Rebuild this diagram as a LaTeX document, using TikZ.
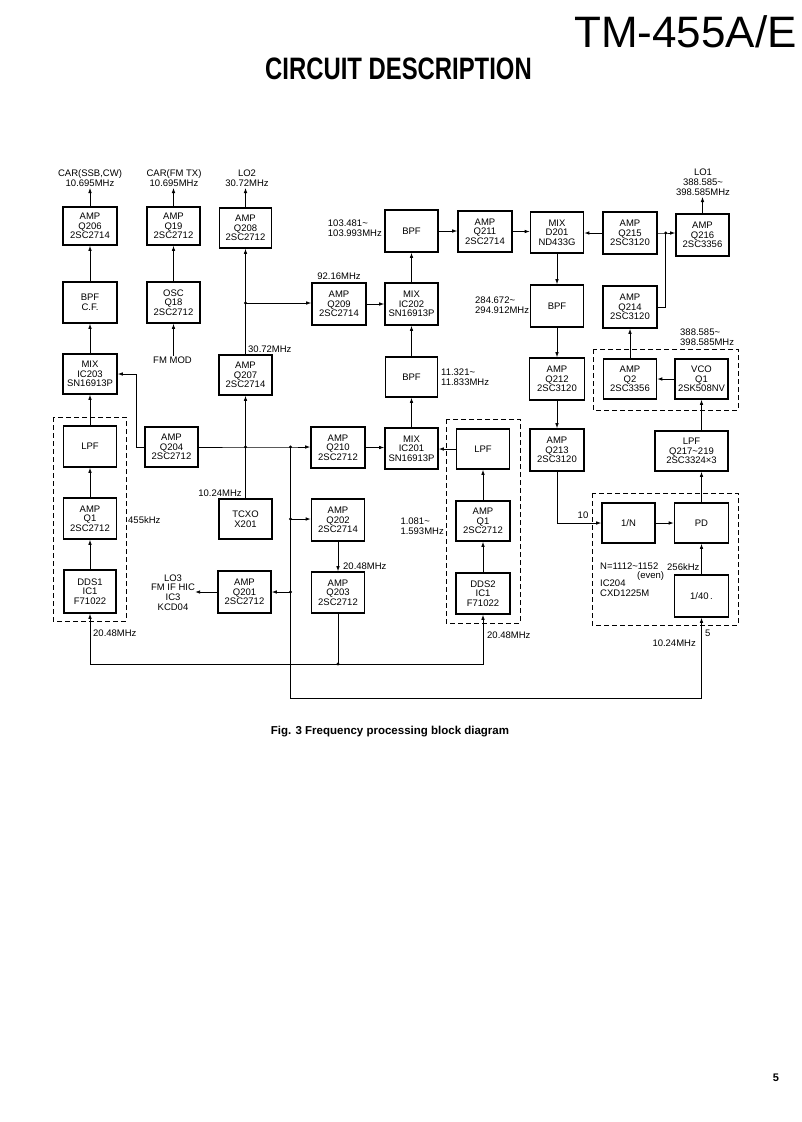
\documentclass[tikz,border=0pt]{standalone}
\usepackage{fontspec}
\usepackage{graphicx}
\setmainfont{Liberation Sans}
\usetikzlibrary{arrows.meta,calc}
\newcommand\bxf{\fontsize{9.5}{9.7}\selectfont}
\begin{document}
\begin{tikzpicture}[x=1pt,y=-1pt,
  blk/.style={draw, line width=1.6pt, minimum width=54pt, minimum height=41pt, align=center, inner sep=0pt, font=\bxf},
  lbl/.style={inner sep=0pt, align=center, font=\bxf},
  lblS/.style={lbl, anchor=south, inner sep=1.5pt},
  wire/.style={line width=0.8pt},
  arr/.style={wire, -{Latex[length=5pt,width=3.6pt]}},
  grp/.style={line width=0.9pt, dash pattern=on 5pt off 3pt},
  jdot/.style={circle, fill, inner sep=0pt, minimum size=3.4pt}]
\useasboundingbox (0,0) rectangle (802,1122);
\fill[white] (0,0) rectangle (802,1122);

% header
\node[anchor=base east, inner sep=0pt, font=\fontsize{44}{44}\selectfont] (model) at (797,47) {TM-455A/E};
\node[anchor=base west, inner sep=0pt, font=\bfseries\fontsize{31}{31}\selectfont] (title) at (265,79) {\scalebox{0.77}[1]{CIRCUIT DESCRIPTION}};

% column 1
\node[blk, minimum height=38pt] (q206) at (90,226) {AMP\\Q206\\2SC2714};
\node[blk] (bpfcf) at (90,302.5) {BPF\\C.F.};
\node[blk, minimum height=40pt] (ic203) at (90,374) {MIX\\IC203\\SN16913P};
\node[blk, minimum width=53pt] (lpf1) at (90,446.5) {LPF};
\node[blk, minimum width=53pt] (q1a) at (90,518.5) {AMP\\Q1\\2SC2712};
\node[blk, minimum width=52pt, minimum height=43pt] (dds1) at (90,591.5) {DDS1\\IC1\\F71022};
% column 2
\node[blk, minimum width=53pt, minimum height=38pt] (q19) at (173.5,226) {AMP\\Q19\\2SC2712};
\node[blk, minimum width=53pt] (osc) at (173.5,302.5) {OSC\\Q18\\2SC2712};
\node[blk, minimum width=53pt, minimum height=40pt] (q204) at (171.5,447) {AMP\\Q204\\2SC2712};
% column 3
\node[blk, minimum width=52pt, minimum height=40pt] (q208) at (245.5,228) {AMP\\Q208\\2SC2712};
\node[blk, minimum width=53pt, minimum height=40pt] (q207) at (245.5,375) {AMP\\Q207\\2SC2714};
\node[blk, minimum width=53pt, minimum height=40pt] (tcxo) at (245.5,519) {TCXO\\X201};
\node[blk, minimum width=53pt, minimum height=42pt] (q201) at (244.5,592) {AMP\\Q201\\2SC2712};
% column 4
\node[blk, minimum height=42pt] (q209) at (339,304) {AMP\\Q209\\2SC2714};
\node[blk] (q210) at (338,447.5) {AMP\\Q210\\2SC2712};
\node[blk, minimum width=53pt, minimum height=42pt] (q202) at (338,520) {AMP\\Q202\\2SC2714};
\node[blk, minimum width=53pt] (q203) at (338,592.5) {AMP\\Q203\\2SC2712};
% column 5
\node[blk, minimum width=53pt, minimum height=42pt] (bpf1) at (411.5,231) {BPF};
\node[blk, minimum width=53pt, minimum height=42pt] (ic202) at (411.5,304) {MIX\\IC202\\SN16913P};
\node[blk, minimum width=52pt, minimum height=40pt] (bpf2) at (411.5,377) {BPF};
\node[blk, minimum width=53pt] (ic201) at (411.5,448.5) {MIX\\IC201\\SN16913P};
% column 6
\node[blk] (q211) at (485,231.5) {AMP\\Q211\\2SC2714};
\node[blk, minimum width=53pt, minimum height=40pt] (lpf2) at (483,449) {LPF};
\node[blk, minimum height=40pt] (q1b) at (483,521) {AMP\\Q1\\2SC2712};
\node[blk] (dds2) at (483,593.5) {DDS2\\IC1\\F71022};
% column 7
\node[blk, minimum width=53pt] (d201) at (557,232.5) {MIX\\D201\\ND433G};
\node[blk, minimum width=53pt, minimum height=42pt] (bpf3) at (557,306) {BPF};
\node[blk, minimum width=55pt, minimum height=42pt] (q212) at (557,379) {AMP\\Q212\\2SC3120};
\node[blk, minimum height=42pt] (q213) at (557,450) {AMP\\Q213\\2SC3120};
% column 8
\node[blk, minimum height=42pt] (q215) at (630,233) {AMP\\Q215\\2SC3120};
\node[blk, minimum height=42pt] (q214) at (630,307) {AMP\\Q214\\2SC3120};
\node[blk, minimum width=53pt, minimum height=40pt] (q2) at (630,379) {AMP\\Q2\\2SC3356};
\node[blk, minimum width=53pt, minimum height=40pt] (n1) at (628.5,523) {1/N};
% column 9
\node[blk, minimum width=53pt, minimum height=42pt] (q216) at (702.5,235) {AMP\\Q216\\2SC3356};
\node[blk, minimum width=53pt, minimum height=40pt] (vco) at (701.5,379) {VCO\\Q1\\2SK508NV};
\node[blk, minimum width=73pt, minimum height=40pt] (lpf3) at (691.5,451) {LPF\\Q217\textasciitilde219\\2SC3324×3};
\node[blk, minimum height=40pt] (pd) at (701.5,523) {PD};
\node[blk, minimum height=42pt] (d40) at (701.5,596) {1/40\,.};

% dashed groups
\draw[grp] (53,417) rectangle (126,621);
\draw[grp] (446,419) rectangle (520,623);
\draw[grp] (593,349) rectangle (738,410);
\draw[grp] (592,493) rectangle (738,625);

% labels
\node[lblS] (car1) at (90,188) {CAR(SSB,CW)\\10.695MHz};
\node[lblS] (car2) at (174,188) {CAR(FM TX)\\10.695MHz};
\node[lblS] (lo2) at (247,188) {LO2\\30.72MHz};
\node[lblS] (lo1) at (703,197) {LO1\\388.585\textasciitilde\\398.585MHz};
\node[lbl, anchor=east, align=left] (f1) at (382,228.5) {103.481\textasciitilde\\103.993MHz};
\node[lbl] (f2) at (339,276) {92.16MHz};
\node[lbl, anchor=west, align=left] (f3) at (475,305.5) {284.672\textasciitilde\\294.912MHz};
\node[lbl, anchor=west] (f4) at (248,349) {30.72MHz};
\node[lbl, anchor=north, inner sep=1pt] (fmmod) at (172.5,355.5) {FM MOD};
\node[lbl, anchor=west, align=left] (f5) at (680,337.5) {388.585\textasciitilde\\398.585MHz};
\node[lbl, anchor=west, align=left] (f6) at (441,377.5) {11.321\textasciitilde\\11.833MHz};
\node[lbl] (f7) at (220,493) {10.24MHz};
\node[lbl, anchor=west] (f8) at (128,520) {455kHz};
\node[lbl, anchor=east, align=left] (f9) at (444,526.5) {1.081\textasciitilde\\1.593MHz};
\node[lbl] (f10) at (583,515) {10};
\node[lbl, anchor=west] (f11) at (343,566) {20.48MHz};
\node[lbl] (lo3) at (173,592.5) {LO3\\FM IF HIC\\IC3\\KCD04};
\node[lbl, anchor=west] (f12) at (600,566) {N=1112\textasciitilde1152};
\node[lbl, anchor=west] (f13) at (637,576) {(even)};
\node[lbl, anchor=west, align=left] (f14) at (600,588.5) {IC204\\CXD1225M};
\node[lbl, anchor=west] (f15) at (667,567) {256kHz};
\node[lbl, anchor=west] (f16) at (705,633) {5};
\node[lbl, anchor=east] (f17) at (696,643) {10.24MHz};
\node[lbl, anchor=west] (f18) at (93,633) {20.48MHz};
\node[lbl, anchor=west] (f19) at (487,635) {20.48MHz};

% junctions and bends
\coordinate (j1) at (245.5,303);
\coordinate (j2) at (245.5,447);
\coordinate (j3) at (290.5,447);
\coordinate (j4) at (290.5,519);
\coordinate (j5) at (290.5,592);
\coordinate (j6) at (338,664);
\coordinate (j7) at (665.7,233);
\coordinate (t1) at (136,374);
\coordinate (c1) at (290.5,698);

% column 1 connectors
\draw[arr] (q206.north) -- (q206.north |- car1.south);
\draw[arr] (bpfcf.north) -- (q206.south);
\draw[arr] (ic203.north) -- (bpfcf.south);
\draw[arr] (lpf1.north) -- (ic203.south);
\draw[arr] (q1a.north) -- (lpf1.south);
\draw[arr] (dds1.north) -- (q1a.south);
% column 2
\draw[arr] (q19.north) -- (q19.north |- car2.south);
\draw[arr] (osc.north) -- (q19.south);
\draw[arr] (osc.south |- fmmod.north) -- (osc.south);
\draw[arr] (q204.west) -| (t1) -- (t1 -| ic203.east);
% column 3
\draw[arr] (q208.north) -- (q208.north |- lo2.south);
\draw[arr] (q207.north) -- (q208.south);
\draw[arr] (j1) -- (j1 -| q209.west);
\draw[arr] (j2) -- (q207.south);
\draw[wire] (tcxo.north) -- (j2);
\draw[arr] (q204.east) -- (j2) -- (j3) -- (j3 -| q210.west);
\draw[arr] (j3) -- (c1) -| (d40.south);
\draw[arr] (j4) -- (j4 -| q202.west);
\draw[arr] (j5) -- (j5 -| q201.east);
\draw[arr] (q201.west) -- (q201.west -| lo3.east);
% column 4
\draw[arr] (q202.south) -- (q203.north);
\draw[wire] (q203.south) -- (j6);
\draw[arr] (j6) -| (dds1.south);
\draw[arr] (j6) -| (dds2.south);
\draw[arr] (q209.east) -- (q209.east -| ic202.west);
\draw[arr] (q210.east) -- (q210.east -| ic201.west);
% column 5/6
\draw[arr] (ic202.north) -- (bpf1.south);
\draw[arr] (bpf2.north) -- (ic202.south);
\draw[arr] (ic201.north) -- (bpf2.south);
\draw[arr] (lpf2.west) -- (lpf2.west -| ic201.east);
\draw[arr] (q1b.north) -- (lpf2.south);
\draw[arr] (dds2.north) -- (q1b.south);
\draw[arr] (bpf1.east) -- (bpf1.east -| q211.west);
\draw[arr] (q211.east) -- (q211.east -| d201.west);
% right side
\draw[arr] (q215.west) -- (q215.west -| d201.east);
\draw[arr] (q215.east) -- (j7) -- (j7 -| q216.west);
\draw[wire] (q214.east) -| (j7);
\draw[arr] (q216.north) -- (q216.north |- lo1.south);
\draw[arr] (d201.south) -- (bpf3.north);
\draw[arr] (bpf3.south) -- (q212.north);
\draw[arr] (q212.south) -- (q213.north);
\draw[arr] (q213.south) |- (n1.west);
\draw[arr] (n1.east) -- (pd.west);
\draw[arr] (d40.north) -- (pd.south);
\draw[arr] (pd.north) -- (pd.north |- lpf3.south);
\draw[arr] (vco.south |- lpf3.north) -- (vco.south);
\draw[arr] (vco.west) -- (q2.east);
\draw[arr] (q2.north) -- (q214.south);

% junction dots
\foreach \j in {j1,j2,j3,j4,j5,j6,j7} \node[jdot] at (\j) {};

% caption and page number
\node[font=\bfseries\fontsize{11.5}{12}\selectfont, inner sep=0pt] (cap) at (390,732) {Fig. 3 Frequency processing block diagram};
\node[font=\bfseries\fontsize{11}{12}\selectfont, inner sep=0pt] (pg) at (776,1078) {5};
\end{tikzpicture}
\end{document}
